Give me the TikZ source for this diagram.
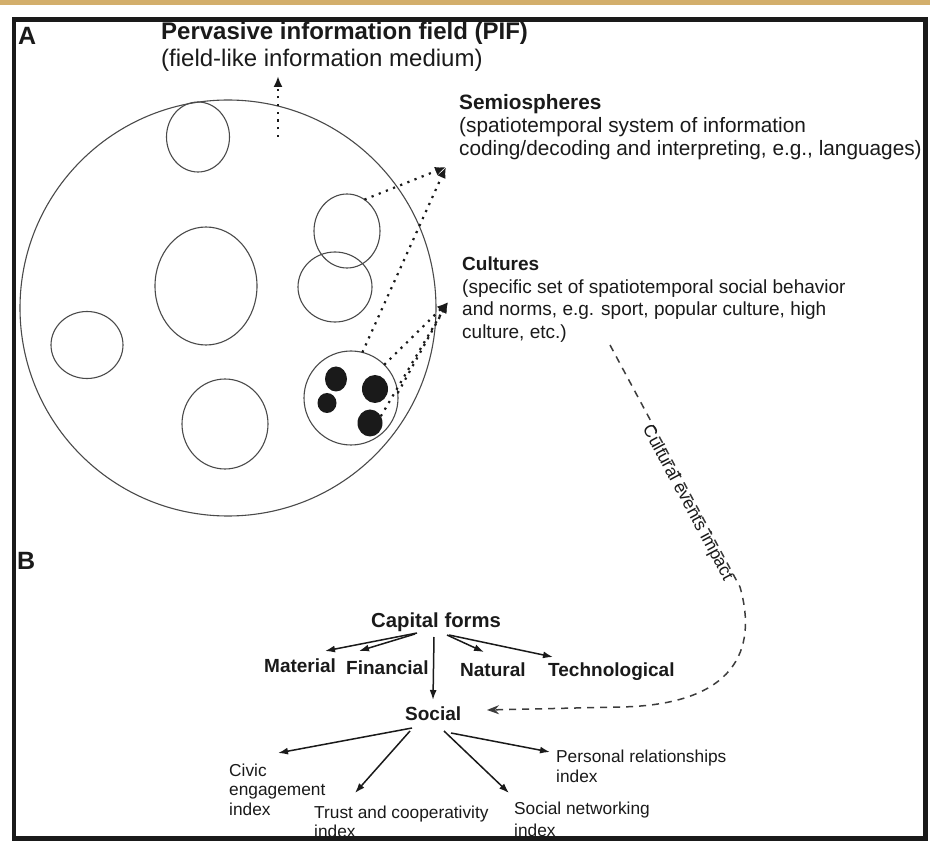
\documentclass[tikz,border=0pt]{standalone}
\usepackage{fontspec}
\setmainfont{Liberation Sans}
\usetikzlibrary{arrows.meta,shapes.geometric}
\definecolor{band}{HTML}{D3AF6C}
\definecolor{ink}{HTML}{1A1A1A}
\definecolor{ringc}{HTML}{4A4A4A}
\begin{document}
\begin{tikzpicture}[x=1pt,y=-1pt,
  ring/.style={ellipse,draw=ringc,line width=1.1pt,inner sep=0pt,outer sep=0pt},
  blob/.style={ellipse,fill=ink,inner sep=0pt,outer sep=0pt},
  txt/.style={inner sep=0pt,anchor=base west,text=ink},
  fA/.style={txt,font=\fontsize{25}{30}\selectfont\bfseries},
  fT/.style={txt,font=\fontsize{24}{27}\selectfont\bfseries},
  fS/.style={txt,font=\fontsize{24}{27}\selectfont},
  fSemB/.style={txt,font=\fontsize{20.8}{23}\selectfont\bfseries},
  fSem/.style={txt,font=\fontsize{20.8}{23}\selectfont},
  fCulB/.style={txt,font=\fontsize{19}{22}\selectfont\bfseries},
  fCul/.style={txt,font=\fontsize{19}{22}\selectfont},
  fCapT/.style={txt,font=\fontsize{20.3}{22}\selectfont\bfseries},
  fCap/.style={txt,font=\fontsize{19}{22}\selectfont\bfseries},
  fIdx/.style={txt,font=\fontsize{17.3}{20}\selectfont},
  fCev/.style={inner sep=0pt,anchor=base,text=ink,font=\fontsize{17.5}{20}\selectfont},
  dotarr/.style={draw=ink,line width=2.2pt,dash pattern=on 2.2pt off 5.5pt,-{Latex[length=11pt,width=9pt]}},
  solarr/.style={draw=ink,line width=1.5pt,-{Latex[length=10pt,width=7pt]}},
  dasharr/.style={draw=ink!85,line width=1.5pt,dash pattern=on 7pt off 6pt,-{Stealth[length=12pt,width=9pt]}},
]
\useasboundingbox (0,0) rectangle (930,842);
\fill[white] (0,0) rectangle (930,842);
\fill[band] (0,0) rectangle (930,5.5);

% ---------- Panel A ----------
\node[fA] (lA) at (18,45) {A};
\node[fT] (pif) at (161,40) {Pervasive information field (PIF)};
\node[fS] (pifsub) at (161,67) {(field-like information medium)};

\node[ring,minimum width=416pt,minimum height=416pt] (field) at (228,308) {};
\node[ring,minimum width=63pt,minimum height=70pt] (s1) at (198,137) {};
\node[ring,minimum width=102pt,minimum height=118pt] (s2) at (206,286) {};
\node[ring,minimum width=72pt,minimum height=67pt] (s3) at (87,345) {};
\node[ring,minimum width=86pt,minimum height=90pt] (s4) at (225,424) {};
\node[ring,minimum width=66pt,minimum height=74pt] (s5) at (347,231) {};
\node[ring,minimum width=74pt,minimum height=70pt] (s6) at (335,287) {};
\node[ring,minimum width=94pt,minimum height=94pt] (s7) at (351,398) {};
\node[blob,minimum width=22pt,minimum height=25pt] (b1) at (336,379) {};
\node[blob,minimum width=26pt,minimum height=28pt] (b2) at (375,389) {};
\node[blob,minimum width=19pt,minimum height=20pt] (b3) at (327,403) {};
\node[blob,minimum width=25pt,minimum height=27pt] (b4) at (370,423) {};

\node[fSemB] (sem) at (459,110) {Semiospheres};
\node[fSem] (sem2) at (459,133) {(spatiotemporal system of information};
\node[fSem] (sem3) at (459,156) {coding/decoding and interpreting, e.g., languages)};

\node[fCulB] (cul) at (462,271) {Cultures};
\node[fCul] (cul2) at (462,293.5) {(specific set of spatiotemporal social behavior};
\node[fCul] (cul3) at (462,316) {and norms, e.g. sport, popular culture, high};
\node[fCul] (cul4) at (462,338.5) {culture, etc.)};

\coordinate (uptail) at (278,137);
\coordinate (uptip) at (278,76);
\coordinate (semtip) at (446,167);
\coordinate (cultip) at (448,302);

\draw[dotarr] (uptail) -- (uptip);
\draw[dotarr] (s5.61) -- (semtip);
\draw[dotarr] (s7.76) -- (semtip);
\draw[dotarr] (s7.45) -- (cultip);
\draw[dotarr] (s7.6) -- (cultip);
\draw[dotarr] (b4.32) -- (cultip);

% ---------- Panel B ----------
\node[fA] (lB) at (17,569) {B};
\node[fCapT] (cap) at (371,627) {Capital forms};
\node[fCap] (mat) at (264,672) {Material};
\node[fCap] (fin) at (346,674) {Financial};
\node[fCap] (nat) at (460,676) {Natural};
\node[fCap] (tech) at (548,676) {Technological};
\node[fCap] (soc) at (405,720) {Social};

\node[fIdx] (civ1) at (229,776) {Civic};
\node[fIdx] (civ2) at (229,795.5) {engagement};
\node[fIdx] (civ3) at (229,815) {index};
\node[fIdx] (tru1) at (314,818) {Trust and cooperativity};
\node[fIdx] (tru2) at (314,837) {index};
\node[fIdx] (sn1) at (514,814) {Social networking};
\node[fIdx] (sn2) at (514,836) {index};
\node[fIdx] (pr1) at (556,762) {Personal relationships};
\node[fIdx] (pr2) at (556,782) {index};

\coordinate (capM) at (417,633);
\coordinate (capF) at (415,634);
\coordinate (capS) at (434,637);
\coordinate (capN) at (447,635);
\coordinate (capT) at (449,635);
\coordinate (matE) at (325,651);
\coordinate (finE) at (359,651);
\coordinate (socE) at (433,700);
\coordinate (natE) at (484,652);
\coordinate (techE) at (553,657);
\draw[solarr] (capM) -- (matE);
\draw[solarr] (capF) -- (finE);
\draw[solarr] (capS) -- (socE);
\draw[solarr] (capN) -- (natE);
\draw[solarr] (capT) -- (techE);

\coordinate (socA) at (412,728);
\coordinate (socB) at (410,731);
\coordinate (socC) at (444,731);
\coordinate (socD) at (451,733);
\coordinate (civE) at (278,753);
\coordinate (truE) at (355,793);
\coordinate (snE) at (509,793);
\coordinate (prE) at (550,752);
\draw[solarr] (socA) -- (civE);
\draw[solarr] (socB) -- (truE);
\draw[solarr] (socC) -- (snE);
\draw[solarr] (socD) -- (prE);

% cultural events impact
\coordinate (ce0) at (610,345);
\coordinate (ce1) at (740,587);
\coordinate (ceend) at (487,710);
\draw[dasharr] (ce0) -- (ce1) .. controls (758,650) and (735,705) .. (620,707) -- (ceend);
\node[fCev,rotate=-61.75] (cei) at (683.3,505.2) {Cultural events impact};

% frame
\draw[ink,line width=4.5pt] (14,19.5) rectangle (925.5,838.5);
\end{tikzpicture}
\end{document}
